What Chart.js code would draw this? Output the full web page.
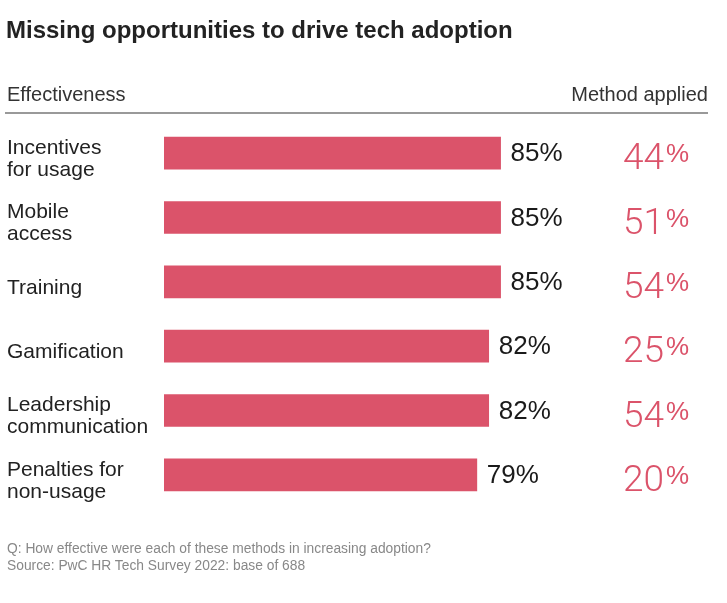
<!DOCTYPE html>
<html>
<head>
<meta charset="utf-8">
<script src="https://cdn.jsdelivr.net/npm/chart.js@4"></script>
<style>
  body { margin: 0; background: #fff; font-family: "Liberation Sans", Arial, sans-serif; }
  #wrap { position: relative; width: 727px; height: 603px; }
  #wrap canvas { position: absolute; left: 0; top: 0; }
  .title { position: absolute; left: 6px; top: 16px; font-size: 24px; font-weight: bold; color: #222; }
  .head { position: absolute; top: 83px; font-size: 20px; color: #333; }
  .rule { position: absolute; left: 5px; top: 112px; width: 703px; height: 2px; background: #999; }
  .note { position: absolute; left: 7px; top: 540px; font-size: 13.8px; line-height: 17px; color: #888; }
</style>
</head>
<body>
<div id="wrap">
  <canvas id="chart" width="727" height="603"></canvas>
  <div class="title">Missing opportunities to drive tech adoption</div>
  <div class="head" style="left:7px">Effectiveness</div>
  <div class="head" style="right:19px">Method applied</div>
  <div class="rule"></div>
  <div class="note">Q: How effective were each of these methods in increasing adoption?<br>Source: PwC HR Tech Survey 2022: base of 688</div>
</div>
<script>
const categories = [['Incentives', 'for usage'], ['Mobile', 'access'], ['Training'], ['Gamification'], ['Leadership', 'communication'], ['Penalties for', 'non-usage']];
const effectiveness = [85, 85, 85, 82, 82, 79];
const methodApplied = [44, 51, 54, 25, 54, 20];

const barColor = '#db536a';

// value labels next to bars + "Method applied" column
const labelsPlugin = {
    id: 'valueLabels',
    afterDatasetsDraw(chart) {
        const ctx = chart.ctx;
        const meta = chart.getDatasetMeta(0);
        ctx.save();
        meta.data.forEach((bar, i) => {
            ctx.textBaseline = 'middle';
            ctx.textAlign = 'left';
            ctx.fillStyle = '#1a1a1a';
            ctx.font = '26px "Liberation Sans", Arial, sans-serif';
            ctx.fillText(effectiveness[i] + '%', bar.x + 10, bar.y + 1);

            // method applied: big digits, smaller % on top
            ctx.fillStyle = barColor;
            ctx.textBaseline = 'alphabetic';
            ctx.font = '300 37px Roboto, "Liberation Sans", sans-serif';
            const num = String(methodApplied[i]);
            const x0 = 623;
            const base = bar.y + 16;
            ctx.fillText(num, x0, base);
            const w = ctx.measureText(num).width;
            ctx.font = '26px "Liberation Sans", Arial, sans-serif';
            ctx.fillText('%', x0 + w + 2, base - 7);
        });
        ctx.restore();
    }
};

new Chart(document.getElementById('chart'), {
    type: 'bar',
    data: {
        labels: categories,
        datasets: [{
            data: effectiveness,
            backgroundColor: barColor,
            barThickness: 32
        }]
    },
    options: {
        indexAxis: 'y',
        responsive: false,
        animation: false,
        layout: { padding: { left: 7, right: 167, top: 121, bottom: 96 } },
        plugins: { legend: { display: false }, tooltip: { enabled: false } },
        scales: {
            x: { display: false, min: 0, max: 100 },
            y: {
                border: { display: false },
                grid: { display: false, drawTicks: false },
                afterFit: (scale) => { scale.width = 157; },
                ticks: {
                    crossAlign: 'far',
                    padding: 0,
                    labelOffset: 6,
                    color: '#222',
                    font: { family: '"Liberation Sans", Arial, sans-serif', size: 21, lineHeight: 1.05 }
                }
            }
        }
    },
    plugins: [labelsPlugin]
});
</script>
</body>
</html>
